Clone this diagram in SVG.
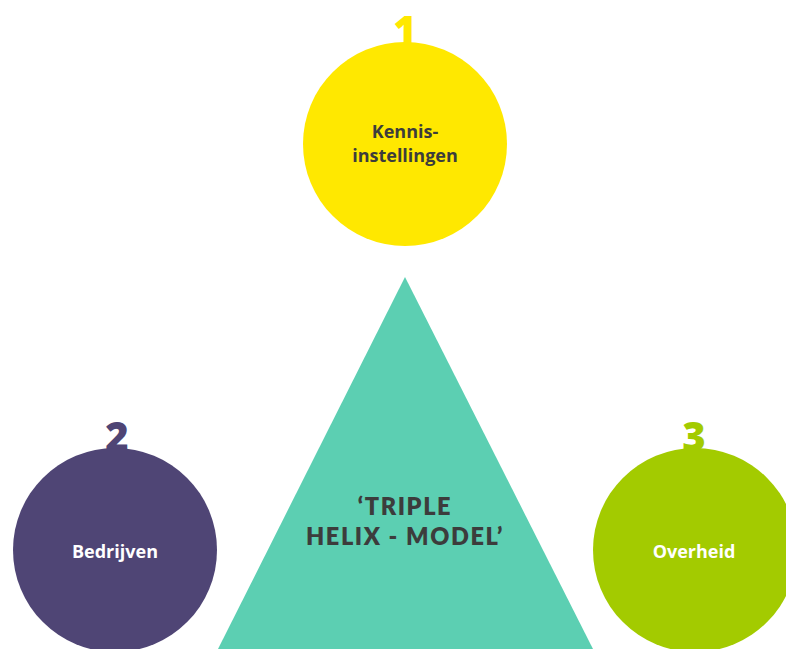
<svg xmlns="http://www.w3.org/2000/svg" width="786" height="649" viewBox="0 0 786 649">
<style>
.num{font-family:"Open Sans","Liberation Sans",sans-serif;font-weight:800;font-size:40px;text-anchor:middle}
.lbl{font-family:"Open Sans","Liberation Sans",sans-serif;font-weight:700;font-size:18px;text-anchor:middle}
.title{font-family:"Lato","Open Sans","Liberation Sans",sans-serif;font-weight:800;font-size:23.5px;text-anchor:middle;fill:#3c3c3c;letter-spacing:1.6px}
</style>
<rect width="786" height="649" fill="#ffffff"/>
<g id="connectors"></g>
<g id="triangle">
<polygon points="405,277 218,649 593,649" fill="#5ccfb2"/>
<text class="title" x="405" y="515">‘TRIPLE</text>
<text class="title" x="405" y="545">HELIX - MODEL’</text>
</g>
<g id="node1">
<text class="num" x="405" y="45" fill="#ffe800">1</text>
<circle cx="405" cy="144" r="102" fill="#ffe800"/>
<text class="lbl" x="405" y="138" fill="#3c3c3c">Kennis-</text>
<text class="lbl" x="405" y="162" fill="#3c3c3c">instellingen</text>
</g>
<g id="node2">
<text class="num" x="117" y="451" fill="#4f4575">2</text>
<circle cx="115" cy="550" r="102" fill="#4f4575"/>
<text class="lbl" x="115" y="558" fill="#ffffff">Bedrijven</text>
</g>
<g id="node3">
<text class="num" x="694" y="451" fill="#a3cb00">3</text>
<circle cx="695" cy="550" r="102" fill="#a3cb00"/>
<text class="lbl" x="694" y="558" fill="#ffffff">Overheid</text>
</g>
</svg>
